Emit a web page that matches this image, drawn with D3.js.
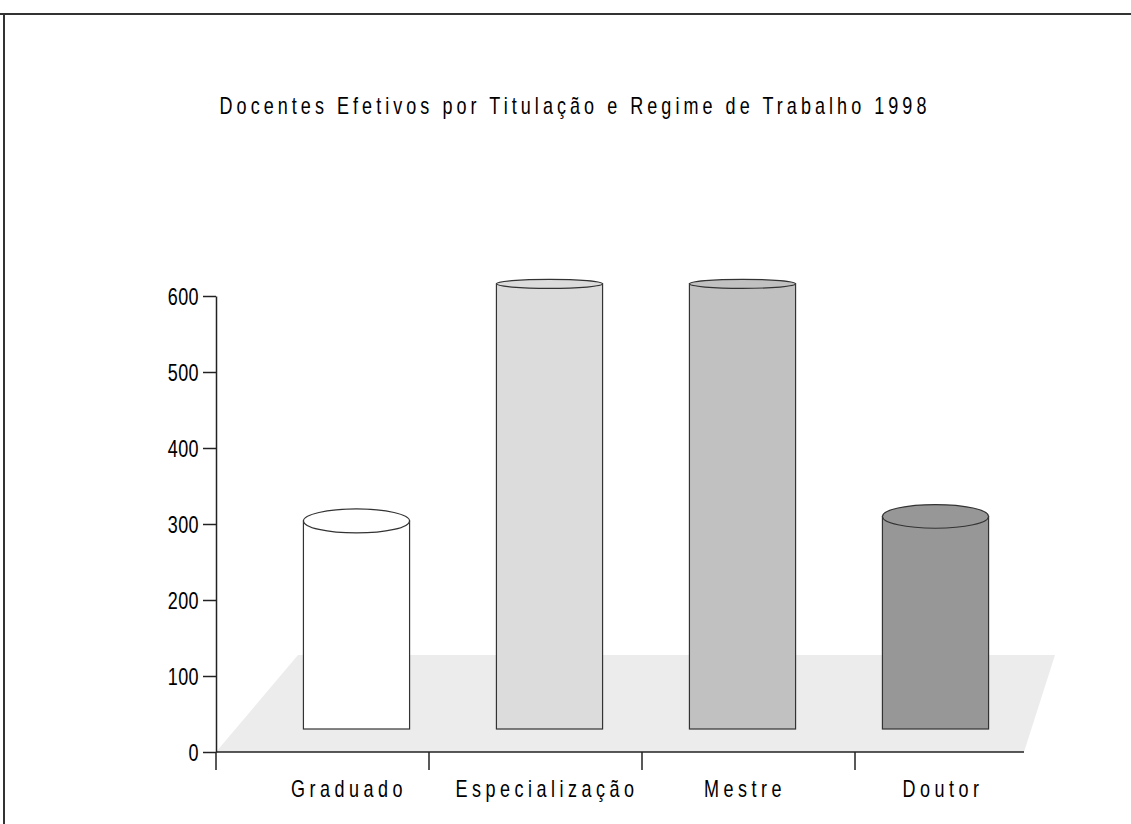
<!DOCTYPE html>
<meta charset="utf-8">
<style>
  body { margin: 0; background: #fff; }
  text { font-family: "Liberation Sans", Arial, sans-serif; fill: #000; }
</style>
<body>
<script src="https://d3js.org/d3.v7.min.js"></script>
<script>
  var categories = ["Graduado", "Especialização", "Mestre", "Doutor"];
  var values = [304, 616, 616, 310];
  var colors = ["#ffffff", "#dcdcdc", "#c1c1c1", "#979797"];
  var yTicks = [0, 100, 200, 300, 400, 500, 600];
  var title = "Docentes Efetivos por Titulação e Regime de Trabalho 1998";

  var W = 1131, H = 824;
  var narrow = 0.75; // fonte condensada (sem Arial Narrow instalada)
  var svg = d3.select("body").append("svg")
      .attr("width", W)
      .attr("height", H);

  // moldura (só topo e esquerda aparecem)
  svg.append("line").attr("x1", 0).attr("x2", W).attr("y1", 14).attr("y2", 14)
      .attr("stroke", "#333").attr("stroke-width", 2);
  svg.append("line").attr("x1", 4).attr("x2", 4).attr("y1", 14).attr("y2", H)
      .attr("stroke", "#333").attr("stroke-width", 2);

  svg.append("text")
      .attr("transform", "translate(575,114) scale(" + narrow + ",1)")
      .attr("text-anchor", "middle")
      .style("font-size", "24px")
      .style("letter-spacing", "5.4px")
      .text(title);

  var y = d3.scaleLinear().domain([0, 600]).range([752, 296]);
  // eixo da frente (ticks nas divisas) e plano de trás (cilindros)
  var xFront = d3.scaleBand().domain(categories).range([216, 1068]);
  var xBar = d3.scaleBand().domain(categories).range([260, 1032])
      .paddingInner(0.45).paddingOuter(0.225);
  var xLabel = d3.scalePoint().domain(categories).range([349, 943]);

  var depth = 97, shiftL = 82, shiftR = 31, floorRight = 1024;
  var baseDepth = 23;

  // piso
  var y0 = y(0);
  svg.append("path")
      .attr("d", "M" + xFront.range()[0] + "," + y0 +
          "L" + (xFront.range()[0] + shiftL) + "," + (y0 - depth) +
          "L" + (floorRight + shiftR) + "," + (y0 - depth) +
          "L" + floorRight + "," + y0 + "Z")
      .attr("fill", "#ececec");

  // cilindros
  var eyeY = 140, k = 0.0315;
  var bar = svg.selectAll(".bar")
      .data(categories)
      .enter().append("g")
      .attr("class", "bar");

  bar.append("rect")
      .attr("x", function(d) { return xBar(d); })
      .attr("width", xBar.bandwidth())
      .attr("y", function(d, i) { return y(values[i]); })
      .attr("height", function(d, i) { return (y0 - baseDepth) - y(values[i]); })
      .attr("fill", function(d, i) { return colors[i]; })
      .attr("stroke", "#333")
      .attr("stroke-width", 1.2);

  bar.append("ellipse")
      .attr("cx", function(d) { return xBar(d) + xBar.bandwidth() / 2; })
      .attr("cy", function(d, i) { return y(values[i]); })
      .attr("rx", xBar.bandwidth() / 2)
      .attr("ry", function(d, i) { return k * (y(values[i]) - eyeY); })
      .attr("fill", function(d, i) { return colors[i]; })
      .attr("stroke", "#333")
      .attr("stroke-width", 1.2);

  // eixo Y
  var yAxis = svg.append("g")
      .attr("transform", "translate(216,0)")
      .call(d3.axisLeft(y).tickValues(yTicks).tickSize(13).tickSizeOuter(0).tickPadding(4));
  yAxis.selectAll("path, line").attr("stroke", "#222").attr("stroke-width", 1.5);
  yAxis.selectAll("text")
      .attr("x", null).attr("dy", null)
      .attr("transform", "translate(-17,8.5) scale(" + narrow + ",1)")
      .style("font-size", "24px")
      .style("letter-spacing", "0.5px");

  // eixo X
  svg.append("line")
      .attr("x1", xFront.range()[0]).attr("x2", floorRight)
      .attr("y1", y0).attr("y2", y0)
      .attr("stroke", "#222").attr("stroke-width", 1.5);

  svg.selectAll(".xtick")
      .data(categories)
      .enter().append("line")
      .attr("class", "xtick")
      .attr("x1", function(d) { return xFront(d); })
      .attr("x2", function(d) { return xFront(d); })
      .attr("y1", y0).attr("y2", y0 + 18)
      .attr("stroke", "#222").attr("stroke-width", 1.5);

  svg.selectAll(".xlabel")
      .data(categories)
      .enter().append("text")
      .attr("class", "xlabel")
      .attr("transform", function(d) {
        return "translate(" + xLabel(d) + ",797) scale(" + narrow + ",1)";
      })
      .attr("text-anchor", "middle")
      .style("font-size", "24px")
      .style("letter-spacing", "6px")
      .text(function(d) { return d; });
</script>
</body>
